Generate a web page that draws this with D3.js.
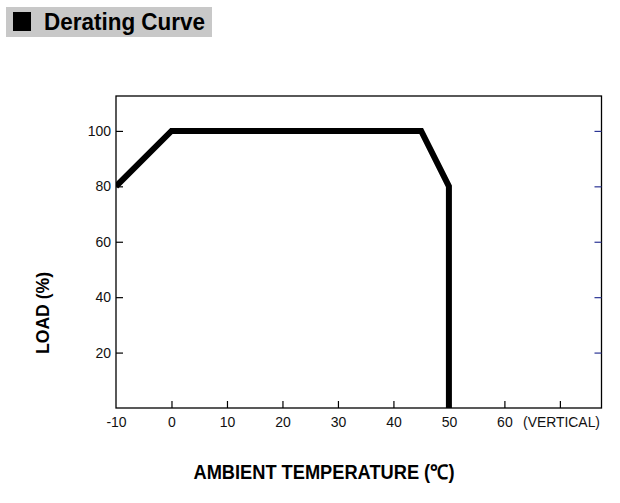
<!DOCTYPE html>
<html>
<head>
<meta charset="utf-8">
<script src="https://cdn.jsdelivr.net/npm/d3@7"></script>
<style>
  body { margin: 0; background: #fff; }
  svg { display: block; font-family: "Liberation Sans", Arial, sans-serif; }
</style>
</head>
<body>
<div id="chart"></div>
<script>
// Derating curve data (temperature in C, load in %)
var temps = [-10, 0, 45, 50, 50];
var loads = [80, 100, 100, 80, 0];
var xTicks = [-10, 0, 10, 20, 30, 40, 50, 60, 70];
var xTickLabels = ["-10", "0", "10", "20", "30", "40", "50", "60", ""];
var yTicks = [20, 40, 60, 80, 100];

var W = 620, H = 503;
var svg = d3.select("#chart").append("svg").attr("width", W).attr("height", H);

// Title box
svg.append("rect").attr("x", 6).attr("y", 7).attr("width", 206).attr("height", 30)
  .attr("fill", "#c8c8c8");
svg.append("rect").attr("x", 13).attr("y", 12).attr("width", 18).attr("height", 19)
  .attr("fill", "#000");
svg.append("text").attr("x", 44).attr("y", 30)
  .attr("font-size", 23).attr("font-weight", "bold")
  .attr("textLength", 161).attr("lengthAdjust", "spacingAndGlyphs")
  .text("Derating Curve");

// scales
var x = d3.scaleLinear().domain([-10, 77.5]).range([116, 601.5]);
var y = d3.scaleLinear().domain([0, 112.6]).range([408, 96]);

// plot frame
svg.append("rect").attr("x", x(-10)).attr("y", y(112.6))
  .attr("width", x(77.5) - x(-10)).attr("height", y(0) - y(112.6))
  .attr("fill", "none").attr("stroke", "#000").attr("stroke-width", 1.3);

// bottom axis, ticks point inward
var xAxis = d3.axisBottom(x).tickValues(xTicks).tickSize(-7).tickSizeOuter(0)
  .tickFormat(function (d, i) { return xTickLabels[i]; });
var xAxisG = svg.append("g").attr("transform", "translate(0," + y(0) + ")").call(xAxis);
xAxisG.select(".domain").remove();
xAxisG.selectAll(".tick line").attr("stroke", "#000").attr("stroke-width", 1.2);
xAxisG.selectAll(".tick text").attr("y", 9).attr("dy", "0.71em")
  .attr("font-size", 14).attr("font-family", "Liberation Sans, Arial, sans-serif").attr("fill", "#111");
xAxisG.selectAll(".tick").filter(function (d) { return d === -10; }).select("line").remove();

// left axis
var yAxis = d3.axisLeft(y).tickValues(yTicks).tickSize(-7).tickSizeOuter(0);
var yAxisG = svg.append("g").attr("transform", "translate(" + x(-10) + ",0)").call(yAxis);
yAxisG.select(".domain").remove();
yAxisG.selectAll(".tick line").attr("stroke", "#000").attr("stroke-width", 1.2);
yAxisG.selectAll(".tick text").attr("x", -5)
  .attr("font-size", 14).attr("font-family", "Liberation Sans, Arial, sans-serif").attr("fill", "#111");

// right axis, blue inward ticks
var rAxis = d3.axisRight(y).tickValues(yTicks).tickSize(-7).tickSizeOuter(0).tickFormat("");
var rAxisG = svg.append("g").attr("transform", "translate(" + x(77.5) + ",0)").call(rAxis);
rAxisG.select(".domain").remove();
rAxisG.selectAll(".tick line").attr("stroke", "#2b3595").attr("stroke-width", 1.2);

svg.append("text").attr("x", 600).attr("y", 427).attr("text-anchor", "end")
  .attr("font-size", 14).attr("fill", "#111")
  .attr("textLength", 77).attr("lengthAdjust", "spacingAndGlyphs")
  .text("(VERTICAL)");

// curve
svg.append("clipPath").attr("id", "plotClip").append("rect")
  .attr("x", x(-10)).attr("y", y(112.6))
  .attr("width", x(77.5) - x(-10)).attr("height", y(0) - y(112.6));
var pts = temps.map(function (t, i) { return [t, loads[i]]; });
var line = d3.line().x(function (d) { return x(d[0]); }).y(function (d) { return y(d[1]); });
svg.append("path").datum(pts).attr("d", line)
  .attr("clip-path", "url(#plotClip)")
  .attr("fill", "none").attr("stroke", "#000").attr("stroke-width", 6)
  .attr("stroke-linejoin", "miter");

// axis titles
svg.append("text").attr("x", 324).attr("y", 479).attr("text-anchor", "middle")
  .attr("font-size", 20).attr("font-weight", "bold")
  .attr("textLength", 261).attr("lengthAdjust", "spacingAndGlyphs")
  .text("AMBIENT TEMPERATURE (\u2103)");
svg.append("text").attr("transform", "translate(49,313) rotate(-90)")
  .attr("text-anchor", "middle")
  .attr("font-size", 19).attr("font-weight", "bold")
  .attr("textLength", 82).attr("lengthAdjust", "spacingAndGlyphs")
  .text("LOAD (%)");
</script>
</body>
</html>
